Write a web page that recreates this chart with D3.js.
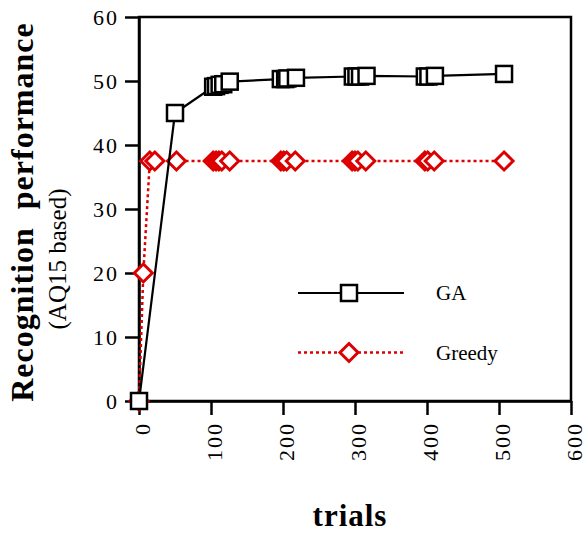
<!DOCTYPE html>
<html>
<head>
<meta charset="utf-8">
<script src="https://cdn.jsdelivr.net/npm/d3@7"></script>
<style>
  body { margin: 0; background: #fff; }
  .axis path, .axis line { stroke: #000; stroke-width: 2.5px; }
</style>
</head>
<body>
<div id="chart"></div>
<script>
// data
var gaTrials = [0, 50, 103, 107, 112, 117, 126, 197, 203, 206, 218, 297, 302, 307, 316, 397, 402, 411, 507];
var gaValues = [0, 45, 49.1, 49.2, 49.4, 49.5, 49.9, 50.3, 50.3, 50.4, 50.5, 50.7, 50.7, 50.7, 50.8, 50.7, 50.7, 50.8, 51.1];

var greedyTrials = [0, 6, 15, 22, 52, 103, 107, 111, 115, 126, 197, 201, 205, 217, 296, 300, 304, 315, 397, 401, 410, 507];
var greedyValues = [0, 20, 37.5, 37.5, 37.5, 37.5, 37.5, 37.5, 37.5, 37.5, 37.5, 37.5, 37.5, 37.5, 37.5, 37.5, 37.5, 37.5, 37.5, 37.5, 37.5, 37.5];

var xTicks = [0, 100, 200, 300, 400, 500, 600];
var yTicks = [0, 10, 20, 30, 40, 50, 60];
var seriesNames = ["GA", "Greedy"];

var serif = "Liberation Serif, Times New Roman, Times, serif";

var w = 585, h = 533;
var margin = { top: 17, right: 14, bottom: 132, left: 139 },
    width = w - margin.left - margin.right,
    height = h - margin.top - margin.bottom;

var red = "#dc0000";

var svg = d3.select("#chart").append("svg")
    .attr("width", w)
    .attr("height", h)
    .style("font-family", serif);

var x = d3.scaleLinear().domain([0, 600]).range([0, width]),
    y = d3.scaleLinear().domain([0, 60]).range([height, 0]);

var g = svg.append("g")
    .attr("transform", "translate(" + margin.left + "," + margin.top + ")");

// frame
g.append("rect")
    .attr("width", width)
    .attr("height", height)
    .attr("fill", "none")
    .attr("stroke", "#000")
    .attr("stroke-width", 2.5);

// y axis
g.append("g")
    .attr("class", "axis axis--y")
    .call(d3.axisLeft(y).tickValues(yTicks).tickSize(14).tickPadding(6).tickSizeOuter(0))
    .selectAll("text")
    .style("font-family", serif)
    .style("font-size", "22px")
    .style("letter-spacing", "2px")
    .attr("dy", "0.35em");

// x axis, labels turned up
var xa = g.append("g")
    .attr("class", "axis axis--x")
    .attr("transform", "translate(0," + height + ")")
    .call(d3.axisBottom(x).tickValues(xTicks).tickSize(14).tickSizeOuter(0));

xa.selectAll("text")
    .style("font-family", serif)
    .style("font-size", "22px")
    .style("letter-spacing", "2px")
    .attr("transform", "rotate(-90)")
    .attr("text-anchor", "end")
    .attr("x", -21)
    .attr("y", 0)
    .attr("dy", "0.47em");

function pts(xs, ys) {
    return xs.map(function(d, i) { return { t: d, v: ys[i] }; });
}
var ga = pts(gaTrials, gaValues),
    greedy = pts(greedyTrials, greedyValues);

var line = d3.line()
    .x(function(d) { return x(d.t); })
    .y(function(d) { return y(d.v); });

var diamond = "M0,-9L9,0L0,9L-9,0Z";

// greedy
g.append("path")
    .datum(greedy)
    .attr("d", line)
    .attr("fill", "none")
    .attr("stroke", red)
    .attr("stroke-width", 2.5)
    .attr("stroke-dasharray", "3,3");

g.selectAll(".dia")
    .data(greedy)
    .enter().append("path")
    .attr("class", "dia")
    .attr("d", diamond)
    .attr("transform", function(d) { return "translate(" + x(d.t) + "," + y(d.v) + ")"; })
    .attr("fill", "#fff")
    .attr("stroke", red)
    .attr("stroke-width", 3);

// GA
g.append("path")
    .datum(ga)
    .attr("d", line)
    .attr("fill", "none")
    .attr("stroke", "#000")
    .attr("stroke-width", 2.2);

g.selectAll(".sq")
    .data(ga)
    .enter().append("rect")
    .attr("class", "sq")
    .attr("x", function(d) { return x(d.t) - 8; })
    .attr("y", function(d) { return y(d.v) - 8; })
    .attr("width", 16)
    .attr("height", 16)
    .attr("fill", "#fff")
    .attr("stroke", "#000")
    .attr("stroke-width", 2.5);

// legend
var legend = svg.append("g");
var lg = legend.selectAll("g")
    .data(seriesNames)
    .enter().append("g")
    .attr("transform", function(d, i) { return "translate(0," + (293 + i * 59.5) + ")"; });

lg.append("line")
    .attr("x1", 298).attr("x2", 404)
    .attr("stroke", function(d, i) { return i ? red : "#000"; })
    .attr("stroke-width", function(d, i) { return i ? 2.5 : 2.2; })
    .attr("stroke-dasharray", function(d, i) { return i ? "3,3" : null; });

lg.each(function(d, i) {
    var s = d3.select(this);
    if (i === 0) {
        s.append("rect").attr("x", 341).attr("y", -8).attr("width", 16).attr("height", 16)
            .attr("fill", "#fff").attr("stroke", "#000").attr("stroke-width", 2.5);
    } else {
        s.append("path").attr("d", diamond).attr("transform", "translate(349,0)")
            .attr("fill", "#fff").attr("stroke", red).attr("stroke-width", 3);
    }
});

lg.append("text")
    .attr("x", 436)
    .attr("dy", "0.35em")
    .style("font-size", "21px")
    .text(function(d) { return d; });

// axis titles
svg.append("text")
    .attr("transform", "translate(33,212) rotate(-90)")
    .attr("text-anchor", "middle")
    .style("font-size", "32px")
    .style("font-weight", "bold")
    .style("letter-spacing", "1px")
    .style("white-space", "pre")
    .text("Recognition  performance");

svg.append("text")
    .attr("transform", "translate(66,259) rotate(-90)")
    .attr("text-anchor", "middle")
    .style("font-size", "25px")
    .text("(AQ15 based)");

svg.append("text")
    .attr("x", 350)
    .attr("y", 526)
    .attr("text-anchor", "middle")
    .style("font-size", "31px")
    .style("font-weight", "bold")
    .style("letter-spacing", "1px")
    .text("trials");
</script>
</body>
</html>
